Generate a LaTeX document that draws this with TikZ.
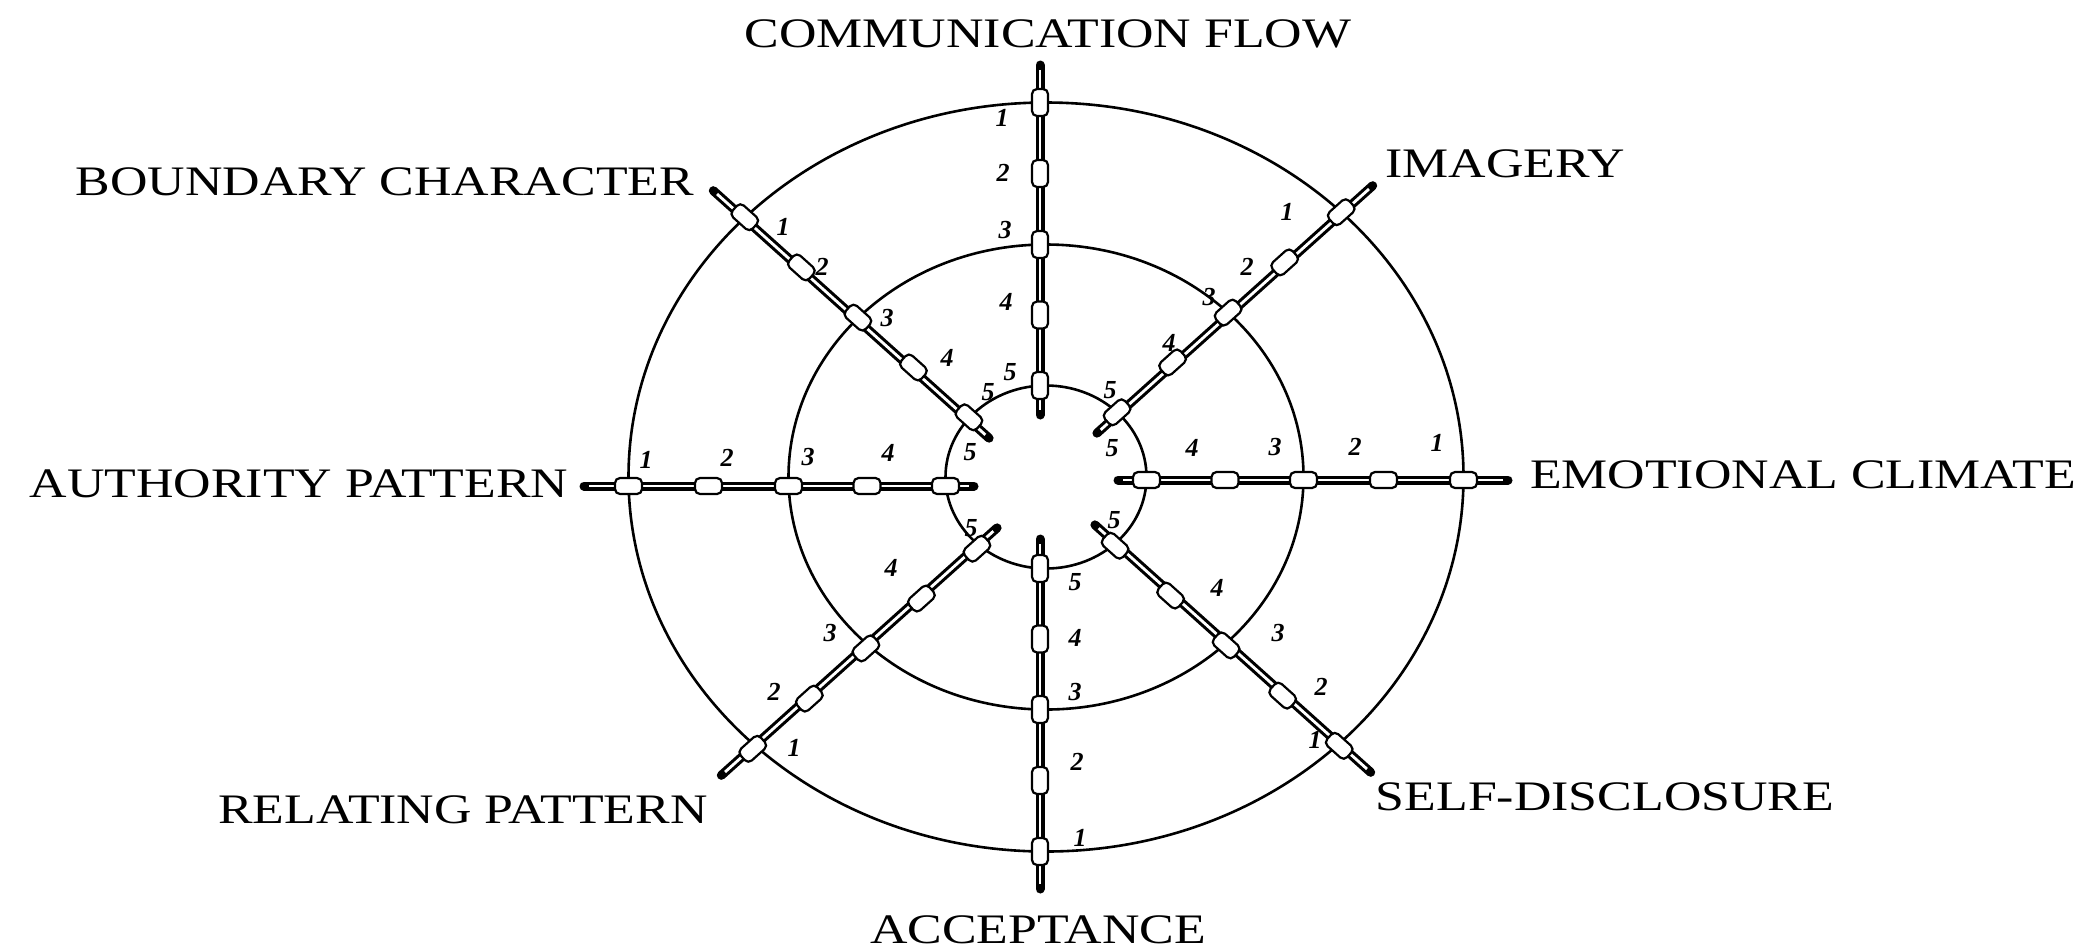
\documentclass[tikz,border=0pt]{standalone}
\usepackage{fontspec}
\setmainfont{Liberation Serif}
\usepackage{graphicx}
\usetikzlibrary{calc}
\newcommand{\wide}[1]{\scalebox{1.235}[1]{#1}}
\begin{document}
\begin{tikzpicture}[x=0.5pt,y=-0.5pt,
  ring/.style={line width=1.3pt},
  barout/.style={line width=4.5pt, line cap=round},
  barin/.style={white, line width=1.4pt, shorten <=2.5pt, shorten >=2.5pt},
  bead/.style={draw, line width=1.1pt, fill=white, rounded corners=2.5pt,
    minimum width=13.5pt, minimum height=8pt, inner sep=0pt},
  lbl/.style={font=\fontsize{21}{21}\selectfont, inner sep=0pt, anchor=base},
  num/.style={font=\fontsize{13}{13}\selectfont\bfseries\itshape, inner sep=0pt}]
\useasboundingbox (0,0) rectangle (2097,950);
\coordinate (C) at (1046,477);
% rings
\draw[ring] (C) ellipse [x radius=417.5, y radius=374.5];
\draw[ring] (C) ellipse [x radius=257.5, y radius=232.5];
\draw[ring] (C) ellipse [x radius=100.5, y radius=91.5];
% spokes
\foreach \a/\ox/\oy/\r in {90/-6/0/90, 270/-6/0/90, 180/0/9/0, 0/0/3/0,
    135/-6/5/138.1, 45/0/0/41.9, 225/2/7/41.9, 315/-2/4/138.1}{
  \coordinate (o\a) at ($(C)+(\ox,\oy)$);
  \coordinate (out\a) at ($(o\a)+({462*cos(\a)},{-412*sin(\a)})$);
  \coordinate (in\a) at ($(o\a)+({72*cos(\a)},{-62*sin(\a)})$);
  \draw[barout] (out\a) -- (in\a);
  \draw[barin] (out\a) -- (in\a);
  \foreach \rx/\ry [count=\k] in {417.5/374.5, 337.5/303.5, 257.5/232.5, 179/162, 100.5/91.5}
    \node[bead, rotate=\r] (bead\a-\k) at ($(o\a)+({\rx*cos(\a)},{-\ry*sin(\a)})$) {};
}
% scale numbers
\foreach \x/\y/\t in {
  1002/118/1, 1003/173/2, 1005/230/3, 1006/302/4, 1010/372/5,
  1075/582/5, 1075/638/4, 1075/692/3, 1077/762/2, 1080/838/1,
  646/460/1, 727/458/2, 808/457/3, 888/453/4, 970/452/5,
  1112/448/5, 1192/448/4, 1275/447/3, 1355/447/2, 1437/443/1,
  783/227/1, 822/267/2, 887/318/3, 947/358/4, 988/392/5,
  1287/212/1, 1247/267/2, 1209/297/3, 1169/343/4, 1110/390/5,
  794/748/1, 774/692/2, 830/633/3, 891/568/4, 971/528/5,
  1114/520/5, 1217/588/4, 1278/633/3, 1321/687/2, 1315/740/1}
  \node[num] (n\x-\y) at (\x,\y) {\t};
% dimension labels
\node[lbl] (comm) at (1048,47) {\wide{COMMUNICATION FLOW}};
\node[lbl] (bound) at (385,195) {\wide{BOUNDARY CHARACTER}};
\node[lbl] (imag) at (1505,177) {\wide{IMAGERY}};
\node[lbl] (auth) at (299,497) {\wide{AUTHORITY PATTERN}};
\node[lbl] (emot) at (1803,488) {\wide{EMOTIONAL CLIMATE}};
\node[lbl] (relat) at (463,823) {\wide{RELATING PATTERN}};
\node[lbl] (self) at (1605,810) {\wide{SELF-DISCLOSURE}};
\node[lbl] (accept) at (1038,943) {\wide{ACCEPTANCE}};
\end{tikzpicture}
\end{document}
